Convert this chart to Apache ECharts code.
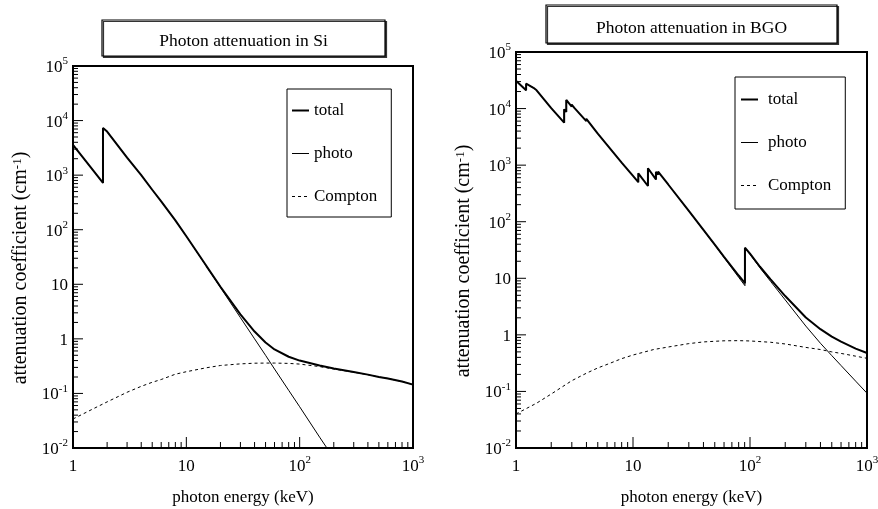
<!DOCTYPE html>
<html>
<head>
<meta charset="utf-8">
<script src="https://cdn.jsdelivr.net/npm/echarts@6/dist/echarts.min.js"></script>
<style>
  html, body { margin: 0; padding: 0; background: #fff; }
  #chart { width: 878px; height: 509px; }
</style>
</head>
<body>
<div id="chart"></div>
<script>
// Si: total / photo share the edge energy grid (keV), values in cm^-1
const siEnergy = [1, 1.5, 1.839, 1.839, 2, 3, 4, 5, 6, 8, 10, 15, 20, 30, 40, 50, 60, 80, 100, 150, 200, 300, 400, 500, 600, 800, 1000]
const siTotal = [3570, 1230, 720, 7330, 6300, 2100, 1000, 540, 330, 148, 76, 21.8, 9.0, 2.8, 1.36, 0.86, 0.64, 0.47, 0.40, 0.326, 0.287, 0.247, 0.221, 0.2, 0.188, 0.165, 0.145]
const siPhoto = [3570, 1230, 720, 7330, 6300, 2100, 1000, 540, 330, 148, 76, 21.5, 8.7, 2.45, 1.0, 0.5, 0.28, 0.114, 0.057, 0.0158, 0.0065]
const siComptonEnergy = [1, 1.5, 2, 3, 4, 5, 6, 8, 10, 15, 20, 30, 40, 50, 60, 80, 100, 150, 200, 300, 400, 500, 600, 800, 1000]
const siCompton = [0.034, 0.052, 0.07, 0.105, 0.135, 0.16, 0.18, 0.225, 0.25, 0.295, 0.325, 0.348, 0.358, 0.36, 0.36, 0.355, 0.345, 0.31, 0.28, 0.245, 0.22, 0.2, 0.188, 0.165, 0.145]

// BGO
const bgoEnergy = [1, 1.22, 1.22, 1.41, 1.41, 1.5, 2, 2.58, 2.58, 2.69, 2.69, 2.99, 2.99, 3.18, 3.18, 3.99, 3.99, 5, 6, 8, 10, 11.1, 11.1, 13.42, 13.42, 15.71, 15.71, 16.39, 16.39, 20, 30, 40, 50, 60, 80, 90.53, 90.53, 100, 121.7, 150, 200, 300, 400, 500, 600, 800, 1000]
const bgoTotal = [31100, 21000, 27500, 23300, 24200, 21000, 10200, 5630, 9700, 8730, 14200, 10800, 11800, 10050, 10600, 6000, 6600, 3600, 2290, 1105, 645, 500, 718, 428, 880, 560, 760, 680, 767, 455, 155, 72, 39.5, 24, 11.2, 8.2, 34.7, 27.2, 16.0, 9.6, 4.85, 2.03, 1.26, 0.93, 0.757, 0.57, 0.478]
const bgoPhoto = [31100, 21000, 27500, 23300, 24200, 21000, 10200, 5630, 9700, 8730, 14200, 10800, 11800, 10050, 10600, 6000, 6600, 3600, 2290, 1105, 645, 500, 718, 428, 880, 560, 760, 680, 767, 454, 154, 71, 38.8, 23.2, 10.4, 7.4, 33.9, 26.4, 15.3, 8.8, 4.15, 1.43, 0.71, 0.43, 0.287, 0.152, 0.093]
const bgoComptonEnergy = [1, 1.5, 2, 3, 4, 5, 6, 8, 10, 15, 20, 30, 40, 50, 60, 80, 100, 150, 200, 300, 400, 500, 600, 800, 1000]
const bgoCompton = [0.04, 0.062, 0.09, 0.155, 0.21, 0.26, 0.3, 0.38, 0.44, 0.55, 0.61, 0.7, 0.75, 0.77, 0.785, 0.79, 0.78, 0.74, 0.69, 0.6, 0.55, 0.5, 0.47, 0.42, 0.385]

// axis decades (exponents)
const xDecades = [0, 1, 2, 3]
const yDecades = [-2, -1, 0, 1, 2, 3, 4, 5]
const legendNames = ["total", "photo", "Compton"]
const titles = ["Photon attenuation in Si", "Photon attenuation in BGO"]

const F = '"Liberation Serif", "DejaVu Serif", serif'

const pairs = (xs, ys) => ys.map((v, i) => [xs[i], v])

// 10^n label with a superscript
const powLabel = (v) => {
  const e = Math.round(Math.log10(v))
  if (e === 0) return "{b|1}"
  if (e === 1) return "{b|10}"
  return "{b|10}{s|" + e + "}"
}
const rich = {
  b: { fontFamily: F, fontSize: 17, color: "#000", lineHeight: 20, verticalAlign: "bottom" },
  s: { fontFamily: F, fontSize: 11, color: "#000", lineHeight: 11, verticalAlign: "top" },
}

// tick marks (major + minor 2..9) drawn through the axis scales
const tickList = (decades, major, minor) => {
  const out = []
  decades.forEach((d, i) => {
    out.push([Math.pow(10, d), major])
    if (i < decades.length - 1) {
      for (let k = 2; k <= 9; k++) out.push([k * Math.pow(10, d), minor])
    }
  })
  return out
}

const tickSeries = (gi, dir) => {
  const list = dir === "x" ? tickList(xDecades, 11, 6) : tickList(yDecades, 10, 5)
  return {
    type: "custom",
    xAxisIndex: gi,
    yAxisIndex: gi,
    silent: true,
    z: 6,
    encode: { x: 0, y: 1 },
    data: list.map((t) => (dir === "x" ? [t[0], 0.01, t[1]] : [1, t[0], t[1]])),
    renderItem: (params, api) => {
      const p = api.coord([api.value(0), api.value(1)])
      const len = api.value(2)
      const shape = dir === "x"
        ? { x1: p[0], y1: p[1], x2: p[0], y2: p[1] - len }
        : { x1: p[0], y1: p[1], x2: p[0] + len, y2: p[1] }
      return { type: "line", shape, style: { stroke: "#000", lineWidth: 1 } }
    },
  }
}

const curves = (gi, e, tot, ph, ce, co) => [
  {
    name: "Compton", type: "line", xAxisIndex: gi, yAxisIndex: gi, symbol: "none", z: 3,
    data: pairs(ce, co), itemStyle: { color: "#000" },
    lineStyle: { color: "#000", width: 1, type: [3, 3] },
  },
  {
    name: "photo", type: "line", xAxisIndex: gi, yAxisIndex: gi, symbol: "none", z: 4,
    data: pairs(e, ph), itemStyle: { color: "#000" },
    lineStyle: { color: "#000", width: 1 },
  },
  {
    name: "total", type: "line", xAxisIndex: gi, yAxisIndex: gi, symbol: "none", z: 5,
    data: pairs(e, tot), itemStyle: { color: "#000" },
    lineStyle: { color: "#000", width: 2 },
  },
]

const grids = [
  { left: 73, top: 66, width: 340, height: 382 },
  { left: 516, top: 52, width: 351, height: 396 },
]

const boxStyle = {
  fill: "#fff", stroke: "#000", lineWidth: 1.2,
  shadowColor: "#333", shadowOffsetX: 1.5, shadowOffsetY: 1.5, shadowBlur: 0,
}

const option = {
  backgroundColor: "#fff",
  animation: false,
  grid: grids.map((g) => ({
    ...g, show: true, borderColor: "#000", borderWidth: 2, backgroundColor: "transparent",
    outerBoundsMode: "none",
  })),
  xAxis: [0, 1].map((i) => ({
    type: "log", logBase: 10, gridIndex: i, min: 1, max: 1000, interval: 1,
    name: "photon energy (keV)", nameLocation: "middle", nameGap: 41,
    nameTextStyle: { fontFamily: F, fontSize: 17, color: "#000" },
    axisLine: { show: false }, axisTick: { show: false }, splitLine: { show: false },
    axisLabel: { formatter: powLabel, rich, margin: 7 },
  })),
  yAxis: [0, 1].map((i) => ({
    type: "log", logBase: 10, gridIndex: i, min: 0.01, max: 100000, interval: 1,
    name: "attenuation coefficient (cm{s|-1})", nameLocation: "middle", nameGap: 42,
    nameTextStyle: {
      fontFamily: F, fontSize: 20, color: "#000", padding: [0, 22, 0, 0],
      rich: { s: { fontFamily: F, fontSize: 13, verticalAlign: "top", lineHeight: 13 } },
    },
    axisLine: { show: false }, axisTick: { show: false }, splitLine: { show: false },
    axisLabel: { formatter: powLabel, rich, margin: 5 },
  })),
  legend: [
    { left: 287, top: 89, padding: [13, 14, 12, 4], textStyle: { padding: [0, 0, 0, 0] } },
    { left: 735, top: 77, padding: [14, 14, 15, 5], textStyle: { padding: [0, 0, 0, 5] } },
  ].map((l) => ({
    ...l, orient: "vertical", selectedMode: false,
    data: legendNames.map((n) => (n === "total" ? n : { name: n, lineStyle: { width: 1 } })),
    itemWidth: 17, itemHeight: 14, itemGap: 26,
    itemStyle: { opacity: 0 },
    borderColor: "#000", borderWidth: 1, backgroundColor: "#fff",
    textStyle: { fontFamily: F, fontSize: 17, color: "#000", ...l.textStyle },
  })),
  graphic: [
    { type: "rect", shape: { x: 102, y: 20, width: 283, height: 36 }, style: boxStyle },
    { type: "text", x: 243.5, y: 41, style: { text: titles[0], font: "17.5px " + F, fill: "#000", align: "center", verticalAlign: "middle", textAlign: "center", textVerticalAlign: "middle" } },
    { type: "rect", shape: { x: 546, y: 5, width: 291, height: 38 }, style: boxStyle },
    { type: "text", x: 691.5, y: 28, style: { text: titles[1], font: "17.5px " + F, fill: "#000", align: "center", verticalAlign: "middle", textAlign: "center", textVerticalAlign: "middle" } },
  ],
  series: [
    ...curves(0, siEnergy, siTotal, siPhoto, siComptonEnergy, siCompton),
    ...curves(1, bgoEnergy, bgoTotal, bgoPhoto, bgoComptonEnergy, bgoCompton),
    tickSeries(0, "x"), tickSeries(0, "y"),
    tickSeries(1, "x"), tickSeries(1, "y"),
  ],
}

const chart = echarts.init(document.getElementById("chart"))
chart.setOption(option)
</script>
</body>
</html>
